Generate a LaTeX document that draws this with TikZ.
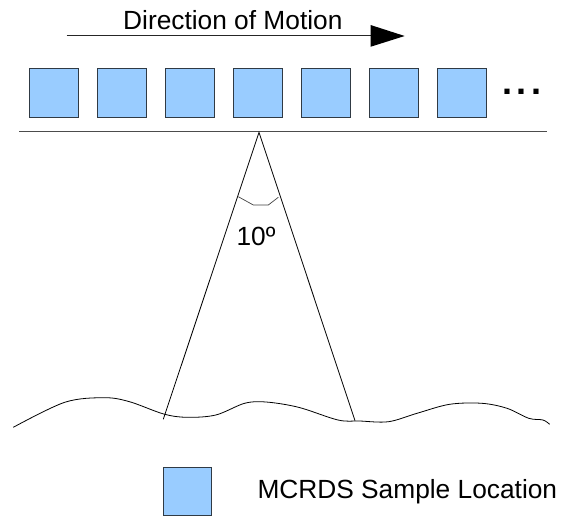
\documentclass[tikz,border=0pt]{standalone}
\usepackage{fontspec}
\setmainfont{Liberation Sans}
\definecolor{sqfill}{HTML}{99CCFF}
\definecolor{sqedge}{HTML}{303A44}
\begin{document}
\begin{tikzpicture}[x=1pt,y=-1pt,
  sample/.style={draw=sqedge,fill=sqfill,line width=0.9pt,minimum width=48.4pt,minimum height=48pt,inner sep=0pt,anchor=north west},
  lbl/.style={inner sep=0pt,anchor=base west,font=\fontsize{26.3}{31}\selectfont},
  thin/.style={line width=0.8pt,black}]
\useasboundingbox (0,0) rectangle (561,516);
% direction of motion
\node[lbl] (dirtext) at (123,30) {Direction of Motion};
\coordinate (arrS) at (66.7,36);
\coordinate (arrE) at (370.5,36);
\draw[line width=1pt,black!85] (arrS) -- (arrE);
\fill[black] (370.5,25) -- (404.7,36) -- (370.5,46.8) -- cycle;
% samples
\foreach \k in {0,...,6}{
  \node[sample] (s\k) at ({29.3+68*\k},68.5) {};
}
\node[inner sep=0pt,anchor=base west,font=\fontsize{36}{40}\selectfont\bfseries] (dots) at (502.5,95) {.\kern4.2pt.\kern4.5pt.};
% platform line
\coordinate (pl) at (19,131.7);
\coordinate (pr) at (546.7,131.7);
\draw[line width=1pt,black!70] (pl) -- (pr);
% beam
\coordinate (apex) at (259,132.3);
\coordinate (bl) at (163.3,419.3);
\coordinate (br) at (355,420.7);
\draw[thin] (bl) -- (apex) -- (br);
\draw[line width=0.7pt,black!75] (238.3,196.7) -- (253.3,205) -- (268.3,205) -- (278.3,197.3);
\node[lbl] (angle) at (236.3,245.7) {10º};
% ground
\draw[thin] plot[smooth,tension=0.55] coordinates {
 (13.3,427.3) (64.7,402.3) (104.3,397.7) (129.5,401.7) (163.7,414) (187,417.3)
 (215.8,415) (244.6,403.3) (266,402) (298.6,407.3) (338,420) (359.7,421)
 (388.5,421.7) (417,413.3) (449.6,404.3) (482,403.3) (507,408.3) (528.8,418.3)
 (543,420) (549.6,424.3)};
% legend
\node[sample] (legsq) at (162.7,467.3) {};
\node[lbl] (legtext) at (257.3,498.3) {MCRDS Sample Location};
\end{tikzpicture}
\end{document}
